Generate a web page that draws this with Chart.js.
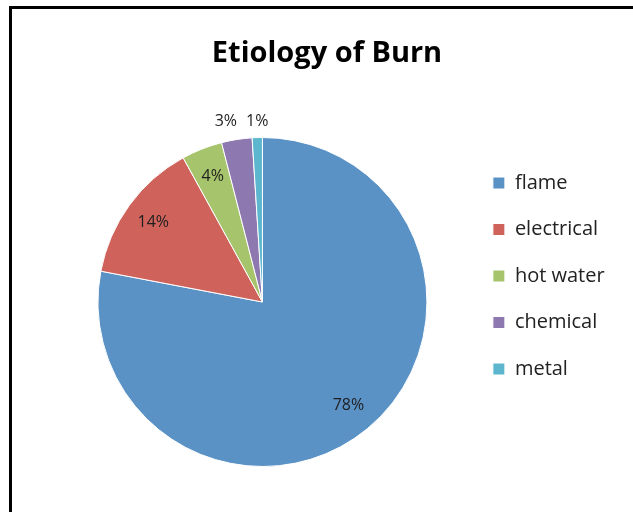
<!DOCTYPE html>
<html>
<head>
<meta charset="utf-8">
<script src="https://cdn.jsdelivr.net/npm/chart.js@4/dist/chart.umd.min.js"></script>
<style>
  html, body { margin: 0; padding: 0; background: #fff; }
  #wrap { position: relative; width: 633px; height: 512px; overflow: hidden; }
  #frame {
    position: absolute; left: 9px; top: 6px; width: 700px; height: 600px;
    border-left: 3px solid #000; border-top: 3px solid #000; pointer-events: none;
  }
</style>
</head>
<body>
<div id="wrap">
  <canvas id="burnChart" width="633" height="512"></canvas>
  <div id="frame"></div>
</div>
<script>
// Dados do gráfico
const categories = ['flame', 'electrical', 'hot water', 'chemical', 'metal'];
const percentages = [78, 14, 4, 3, 1];
const sliceColors = ['#5b92c6', '#cf635b', '#a6c46b', '#8e78b0', '#5bb6ce'];

const fontFamily = '"Open Sans", Lato, sans-serif';
const legendFontSize = 20;
const legendPadding = 26.5;
const legendBox = 12;

// Rótulos de percentagem (dentro das fatias grandes, acima das pequenas)
const pieLabels = {
    id: 'pieLabels',
    afterDatasetsDraw(chart) {
        const ctx = chart.ctx;
        const meta = chart.getDatasetMeta(0);
        const values = chart.data.datasets[0].data;
        ctx.save();
        ctx.font = '16px ' + fontFamily;
        ctx.fillStyle = '#1e1e1e';
        ctx.textAlign = 'center';
        ctx.textBaseline = 'middle';

        const outside = [];
        meta.data.forEach((arc, i) => {
            const p = arc.getProps(['x', 'y', 'startAngle', 'endAngle', 'outerRadius'], true);
            const mid = (p.startAngle + p.endAngle) / 2;
            const text = values[i] + '%';
            if (values[i] >= 4) {
                const r = p.outerRadius * 0.82;
                ctx.fillText(text, p.x + Math.cos(mid) * r, p.y + Math.sin(mid) * r);
            } else {
                outside.push({
                    text: text,
                    x: p.x + Math.cos(mid) * p.outerRadius,
                    y: p.y - p.outerRadius - 16,
                    w: ctx.measureText(text).width
                });
            }
        });

        // evitar sobreposição: empurra para a esquerda
        outside.sort((a, b) => b.x - a.x);
        for (let i = 1; i < outside.length; i++) {
            const prev = outside[i - 1];
            const cur = outside[i];
            const minDist = (prev.w + cur.w) / 2 + 9;
            if (prev.x - cur.x < minDist) cur.x = prev.x - minDist;
        }
        outside.forEach(l => ctx.fillText(l.text, l.x, l.y));
        ctx.restore();
    }
};

const ctx = document.getElementById('burnChart').getContext('2d');

// Largura da legenda, para centrar o título e a pizza onde estão no original
ctx.font = legendFontSize + 'px ' + fontFamily;
const maxTextW = Math.max(...categories.map(c => ctx.measureText(c).width));
const legendWidth = legendPadding + legendBox + legendFontSize / 2 + maxTextW;
const legendLeft = 494 - legendPadding;        // quadrado da legenda em x=494
const padRight = 633 - legendLeft - legendWidth;
const padLeft = padRight + 21;                 // título centrado em x=327
const leftGap = Math.max(526 - legendLeft - padLeft, 0); // pizza centrada em x=263

const burnChart = new Chart(ctx, {
    type: 'pie',
    data: {
        labels: categories,
        datasets: [{
            data: percentages,
            backgroundColor: sliceColors,
            borderColor: '#ffffff',
            borderWidth: 1,
            hoverOffset: 0
        }]
    },
    options: {
        responsive: false,
        animation: false,
        layout: {
            padding: { left: padLeft, right: padRight, top: 0, bottom: 45 }
        },
        plugins: {
            title: {
                display: true,
                text: 'Etiology of Burn',
                color: '#000',
                font: { family: fontFamily, size: 29, weight: 'bold' },
                padding: { top: 36, bottom: 66.2 }
            },
            subtitle: {
                // espaçador invisível à esquerda
                display: true,
                position: 'left',
                fullSize: false,
                text: ' ',
                font: { size: 1 },
                padding: { top: Math.max(leftGap - 1.2, 0), bottom: 0 }
            },
            legend: {
                position: 'right',
                align: 'start',
                fullSize: false,
                title: {
                    display: true,
                    text: ' ',
                    font: { size: 1 },
                    padding: { top: 0, bottom: 8.3 }
                },
                labels: {
                    boxWidth: legendBox,
                    boxHeight: legendBox,
                    padding: legendPadding,
                    color: '#222',
                    font: { family: fontFamily, size: legendFontSize }
                }
            },
            tooltip: { enabled: false }
        }
    },
    plugins: [pieLabels]
});
</script>
</body>
</html>
